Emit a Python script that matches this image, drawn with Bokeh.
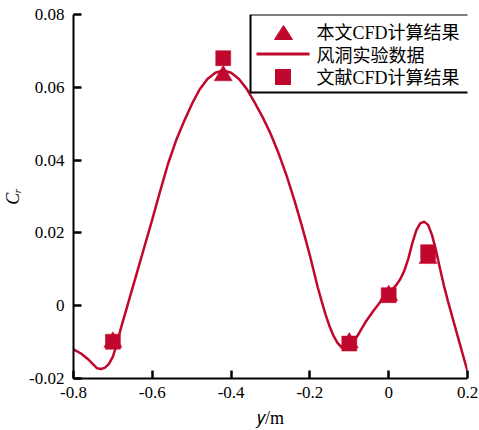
from bokeh.plotting import figure
from bokeh.models import Range1d, FixedTicker, Label, BoxAnnotation, PolyAnnotation, PrintfTickFormatter
from bokeh.embed import file_html
from bokeh.resources import INLINE

# Wind-tunnel measurement of the roll moment coefficient along the span
tunnel_y = [-0.80, -0.78, -0.76, -0.74, -0.73, -0.72, -0.71, -0.70, -0.69, -0.68,
            -0.66, -0.64, -0.62, -0.60, -0.58, -0.56, -0.54, -0.52, -0.50, -0.48,
            -0.46, -0.44, -0.42, -0.40, -0.38, -0.36, -0.34, -0.32, -0.30, -0.28,
            -0.26, -0.24, -0.22, -0.20, -0.18, -0.17, -0.16, -0.15, -0.14, -0.13,
            -0.12, -0.11, -0.10, -0.09, -0.08, -0.06, -0.04, -0.02, 0.00, 0.02,
            0.03, 0.04, 0.05, 0.06, 0.07, 0.08, 0.09, 0.10, 0.11, 0.12,
            0.13, 0.14, 0.15, 0.16, 0.18, 0.20]
tunnel_cr = [-0.0120, -0.0132, -0.0150, -0.0172, -0.0174, -0.0170, -0.0160, -0.0140, -0.0105, -0.0063,
             0.0012, 0.0087, 0.0162, 0.0237, 0.0315, 0.0390, 0.0453, 0.0505, 0.0553, 0.0594,
             0.0623, 0.0640, 0.0646, 0.0640, 0.0623, 0.0595, 0.0558, 0.0518, 0.0473, 0.0420,
             0.0360, 0.0292, 0.0218, 0.0138, 0.0050, 0.0012, -0.0025, -0.0057, -0.0083, -0.0102,
             -0.0114, -0.0118, -0.0113, -0.0100, -0.0084, -0.0047, -0.0016, 0.0012, 0.0033, 0.0058,
             0.0074, 0.0097, 0.0130, 0.0172, 0.0207, 0.0226, 0.0231, 0.0222, 0.0194, 0.0152,
             0.0103, 0.0056, 0.0014, -0.0025, -0.0103, -0.0180]

# CFD results of this work
cfd_y = [-0.70, -0.42, -0.10, 0.00, 0.10]
cfd_cr = [-0.0100, 0.0632, -0.0102, 0.0028, 0.0130]

# CFD results from the literature
lit_y = [-0.70, -0.42, -0.10, 0.00, 0.10]
lit_cr = [-0.0099, 0.0680, -0.0104, 0.0029, 0.0147]

x_ticks = [-0.8, -0.6, -0.4, -0.2, 0.0, 0.2]
y_ticks = [-0.02, 0.0, 0.02, 0.04, 0.06, 0.08]

x_title = "𝑦/m"
y_title = "Cᵣ"
legend_labels = ["本文CFD计算结果", "风洞实验数据", "文献CFD计算结果"]

RED = "#C0072D"
SERIF = "Liberation Serif"
TICK_FONT = "Times"
LEGEND_FONT = "'Liberation Serif', 'Noto Sans CJK SC', serif"

p = figure(width=479, height=430, output_backend="svg", toolbar_location=None,
           x_range=Range1d(-0.8, 0.2), y_range=Range1d(-0.02, 0.08),
           min_border_left=72, min_border_right=12, min_border_top=14, min_border_bottom=52)
p.outline_line_color = None
p.background_fill_color = "white"
p.border_fill_color = "white"
p.xgrid.visible = False
p.ygrid.visible = False

for axis, ticks in ((p.xaxis[0], x_ticks), (p.yaxis[0], y_ticks)):
    axis.ticker = FixedTicker(ticks=ticks, minor_ticks=[])
    axis.formatter = PrintfTickFormatter(format="%g")
    axis.axis_line_color = "black"
    axis.axis_line_width = 2
    axis.major_tick_in = 8
    axis.major_tick_out = 0
    axis.major_tick_line_width = 2.5
    axis.major_tick_line_color = "black"
    axis.minor_tick_in = 0
    axis.minor_tick_out = 0
    axis.major_label_text_font = TICK_FONT
    axis.major_label_text_font_size = "17px"
    axis.major_label_text_font_style = "normal"
    axis.major_label_text_color = "black"
    axis.axis_label_text_font = SERIF
    axis.axis_label_text_font_size = "18px"
    axis.axis_label_text_font_style = "normal"
    axis.axis_label_text_color = "black"
p.yaxis[0].major_label_standoff = 9
p.xaxis[0].major_label_standoff = 8
p.xaxis[0].axis_label = x_title
p.xaxis[0].axis_label_standoff = 7
p.yaxis[0].axis_label = y_title
p.yaxis[0].axis_label_text_font_style = "italic"
p.yaxis[0].axis_label_standoff = 3

# series
p.line(tunnel_y, tunnel_cr, line_color=RED, line_width=2.5)
p.scatter(cfd_y, cfd_cr, marker="triangle", size=18, fill_color=RED, line_color=RED, line_width=0.5)
p.scatter(lit_y, lit_cr, marker="square", size=15, fill_color=RED, line_color=RED, line_width=0.5)

# legend box
p.add_layout(BoxAnnotation(left=177, right=397, bottom=286, top=364,
                           left_units="screen", right_units="screen",
                           bottom_units="screen", top_units="screen",
                           fill_color="white", fill_alpha=1.0,
                           line_color="black", line_width=2, line_alpha=1.0))
p.add_layout(PolyAnnotation(xs=[210, 201, 219], ys=[353, 339, 339],
                            xs_units="screen", ys_units="screen",
                            fill_color=RED, fill_alpha=1.0, line_color=RED, line_alpha=1.0))
p.add_layout(BoxAnnotation(left=183, right=236, bottom=323, top=326,
                           left_units="screen", right_units="screen",
                           bottom_units="screen", top_units="screen",
                           fill_color=RED, fill_alpha=1.0, line_color=None))
p.add_layout(PolyAnnotation(xs=[202, 217, 217, 202], ys=[309, 309, 294, 294],
                            xs_units="screen", ys_units="screen",
                            fill_color=RED, fill_alpha=1.0, line_color=RED, line_alpha=1.0))
for lbl, ly in zip(legend_labels, [346, 323, 301]):
    p.add_layout(Label(x=243, y=ly, x_units="screen", y_units="screen", text=lbl,
                       text_font=LEGEND_FONT, text_font_size="18px", text_color="black",
                       text_align="left", text_baseline="middle"))

open("out.html", "w").write(file_html(p, INLINE))
